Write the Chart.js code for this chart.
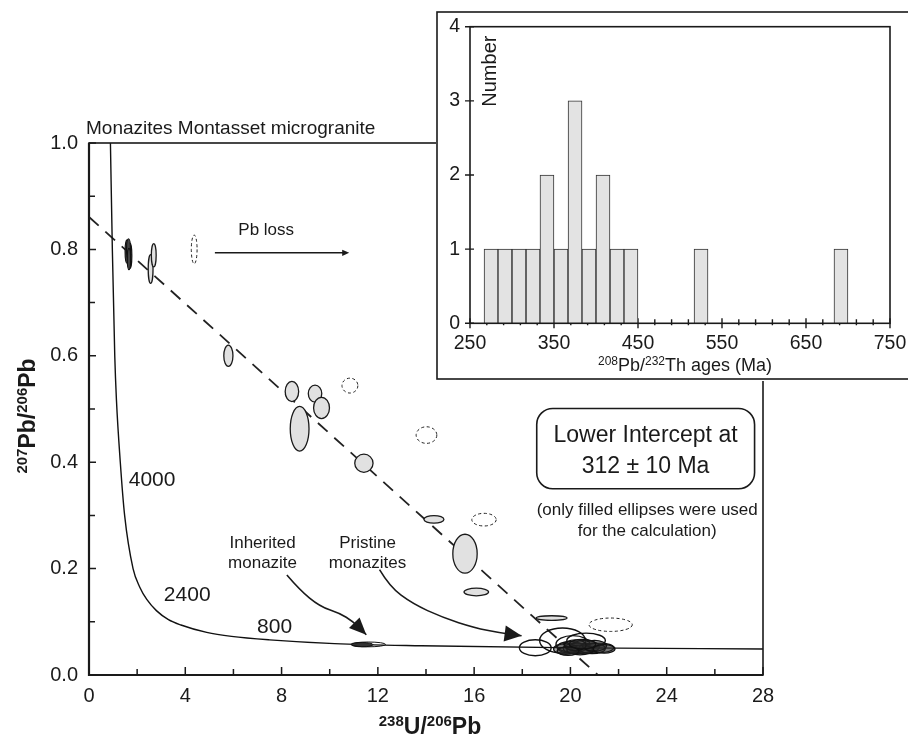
<!DOCTYPE html>
<html>
<head>
<meta charset="utf-8">
<script src="https://cdn.jsdelivr.net/npm/chart.js@4.4.1/dist/chart.umd.min.js"></script>
<style>
  html, body { margin: 0; padding: 0; background: #fff; overflow: hidden; }
  #wrap { position: relative; width: 908px; height: 737px; overflow: hidden; }
  #mainChart { position: absolute; left: 0; top: 0; }
  #insetChart { position: absolute; left: 436px; top: 5px; }
</style>
</head>
<body>
<div id="wrap">
  <canvas id="mainChart" width="908" height="737"></canvas>
  <canvas id="insetChart" width="500" height="376"></canvas>
</div>
<script>
// ---- data ----
// concordia curve (238U/206Pb, 207Pb/206Pb)
const concordiaX = [0.89, 0.97, 1.07, 1.14, 1.30, 1.48, 1.83, 2.11, 2.40, 2.80, 3.30, 3.82, 4.89, 5.92, 7.50, 10.2, 13.8, 20.2, 28.0];
const concordiaY = [1.0, 0.80, 0.60, 0.517, 0.40, 0.30, 0.20, 0.165, 0.142, 0.121, 0.104, 0.094, 0.080, 0.0725, 0.066, 0.059, 0.055, 0.051, 0.049];

// discordia (dashed regression line)
const discordiaX = [0, 21.14];
const discordiaY = [0.861, 0];

// ellipses: [x, y, half-width in x, half-height in y]
const usedEllipses = [
  [2.56, 0.763, 0.10, 0.027], [2.69, 0.789, 0.10, 0.022],
  [5.79, 0.600, 0.19, 0.020],
  [8.43, 0.533, 0.28, 0.019], [8.75, 0.463, 0.39, 0.042],
  [9.39, 0.529, 0.28, 0.016], [9.66, 0.502, 0.33, 0.020],
  [11.42, 0.398, 0.38, 0.017],
  [14.33, 0.2925, 0.415, 0.0072],
  [15.62, 0.228, 0.506, 0.0366],
  [16.09, 0.156, 0.51, 0.0072],
  [19.22, 0.107, 0.636, 0.0044]
];
const usedCluster = [
  [1.58, 0.796, 0.08, 0.022], [1.70, 0.788, 0.08, 0.024],
  [1.64, 0.801, 0.08, 0.019], [1.66, 0.782, 0.07, 0.020]
];
const excludedEllipses = [
  [4.37, 0.800, 0.12, 0.027],
  [10.84, 0.544, 0.33, 0.014],
  [14.02, 0.451, 0.43, 0.0156],
  [16.41, 0.292, 0.506, 0.0119],
  [21.67, 0.0945, 0.9, 0.0126]
];
const pristineEllipses = [
  [18.54, 0.0513, 0.66, 0.015],
  [19.67, 0.0648, 0.95, 0.0235],
  [20.65, 0.0648, 0.80, 0.014],
  [20.10, 0.058, 0.70, 0.016]
];
const pristineCore = [
  [20.0, 0.052, 0.55, 0.011], [20.3, 0.050, 0.60, 0.010], [20.6, 0.053, 0.60, 0.012],
  [20.9, 0.050, 0.55, 0.010], [21.2, 0.051, 0.60, 0.009], [19.8, 0.049, 0.50, 0.010],
  [20.4, 0.047, 0.55, 0.009], [21.0, 0.055, 0.50, 0.010], [20.2, 0.056, 0.45, 0.010],
  [21.4, 0.049, 0.45, 0.008], [20.5, 0.058, 0.55, 0.009], [19.9, 0.045, 0.45, 0.008]
];
const inheritedEllipses = [
  [11.35, 0.057, 0.45, 0.004],
  [11.60, 0.0575, 0.72, 0.0045]
];

// histogram of 208Pb/232Th ages (occupied bins only)
const ageBinStart = [266.7, 283.3, 300, 316.7, 333.3, 350, 366.7, 383.3, 400, 416.7, 433.3, 516.7, 683.3];
const ageCounts   = [1, 1, 1, 1, 2, 1, 3, 1, 2, 1, 1, 1, 1];
const ageBinWidth = 16.67;

// tick labels
const xTickValues = [0, 4, 8, 12, 16, 20, 24, 28];
const yTickValues = [0, 0.2, 0.4, 0.6, 0.8, 1.0];
const ageTickValues = [250, 350, 450, 550, 650, 750];
const countTickValues = [0, 1, 2, 3, 4];

const FONT = "'Liberation Sans', Arial, Helvetica, sans-serif";
const INK = '#1a1a1a';
Chart.defaults.font.family = FONT;
Chart.defaults.color = INK;

function drawEllipses(chart, list, style) {
  const {ctx, scales: {x, y}} = chart;
  list.forEach(([ex, ey, sx, sy]) => {
    const cx = x.getPixelForValue(ex), cy = y.getPixelForValue(ey);
    const rx = x.getPixelForValue(ex + sx) - cx;
    const ry = cy - y.getPixelForValue(ey + sy);
    ctx.beginPath();
    ctx.ellipse(cx, cy, rx, ry, 0, 0, Math.PI * 2);
    if (style.fill) { ctx.fillStyle = style.fill; ctx.fill(); }
    ctx.setLineDash(style.dash || []);
    ctx.lineWidth = style.width;
    ctx.strokeStyle = style.stroke;
    ctx.stroke();
  });
  ctx.setLineDash([]);
}

function text(ctx, str, x, y, size, align) {
  ctx.font = size + 'px ' + FONT;
  ctx.textAlign = align || 'center';
  ctx.textBaseline = 'alphabetic';
  ctx.fillText(str, x, y);
}

// text with superscripts, centred on x
function supText(ctx, parts, x, y, size, supSize, bold) {
  const f = (s) => (bold ? 'bold ' : '') + s + 'px ' + FONT;
  let w = 0;
  parts.forEach(([t, sup]) => { ctx.font = f(sup ? supSize : size); w += ctx.measureText(t).width; });
  let cx = x - w / 2;
  ctx.textAlign = 'left';
  ctx.textBaseline = 'alphabetic';
  parts.forEach(([t, sup]) => {
    ctx.font = f(sup ? supSize : size);
    ctx.fillText(t, cx, sup ? y - size * 0.36 : y);
    cx += ctx.measureText(t).width;
  });
}

function smoothPath(ctx, pts) {
  ctx.beginPath();
  ctx.moveTo(pts[0][0], pts[0][1]);
  for (let i = 1; i < pts.length - 1; i++) {
    const mx = (pts[i][0] + pts[i + 1][0]) / 2, my = (pts[i][1] + pts[i + 1][1]) / 2;
    ctx.quadraticCurveTo(pts[i][0], pts[i][1], mx, my);
  }
  const n = pts.length;
  ctx.lineTo(pts[n - 1][0], pts[n - 1][1]);
  ctx.stroke();
}

function arrowHead(ctx, tip, from, len, half) {
  const a = Math.atan2(tip[1] - from[1], tip[0] - from[0]);
  const bx = tip[0] - len * Math.cos(a), by = tip[1] - len * Math.sin(a);
  ctx.beginPath();
  ctx.moveTo(tip[0], tip[1]);
  ctx.lineTo(bx + half * Math.sin(a), by - half * Math.cos(a));
  ctx.lineTo(bx - half * Math.sin(a), by + half * Math.cos(a));
  ctx.closePath();
  ctx.fill();
}

const mainDecor = {
  id: 'mainDecor',
  afterDatasetsDraw(chart) {
    const {ctx} = chart;
    ctx.save();
    drawEllipses(chart, excludedEllipses, {stroke: '#222', width: 1, dash: [3, 2.5]});
    drawEllipses(chart, pristineEllipses, {stroke: '#111', width: 1.4});
    drawEllipses(chart, pristineCore, {fill: 'rgba(40,40,40,0.4)', stroke: '#111', width: 1.3});
    drawEllipses(chart, inheritedEllipses.slice(0, 1), {fill: '#333', stroke: '#111', width: 1});
    drawEllipses(chart, inheritedEllipses.slice(1), {stroke: '#111', width: 1});
    drawEllipses(chart, usedCluster, {fill: '#444', stroke: '#111', width: 1.2});
    drawEllipses(chart, usedEllipses, {fill: '#e1e1e1', stroke: '#1a1a1a', width: 1.3});
    ctx.restore();
  },
  afterDraw(chart) {
    const {ctx, chartArea: {left, right, top, bottom}, scales: {x, y}} = chart;
    const P = (dx, dy) => [x.getPixelForValue(dx), y.getPixelForValue(dy)];
    ctx.save();
    ctx.strokeStyle = INK;
    ctx.fillStyle = INK;

    // frame
    ctx.lineWidth = 1.6;
    ctx.strokeRect(left, top, right - left, bottom - top);
    ctx.lineWidth = 2.2;
    ctx.beginPath();
    ctx.moveTo(left, top); ctx.lineTo(left, bottom); ctx.lineTo(right, bottom);
    ctx.stroke();

    // inward ticks
    ctx.lineWidth = 1.5;
    ctx.beginPath();
    xTickValues.forEach((v, i) => {
      const px = x.getPixelForValue(v);
      ctx.moveTo(px, bottom); ctx.lineTo(px, bottom - 8);
      if (i < xTickValues.length - 1) {
        const mx = x.getPixelForValue((v + xTickValues[i + 1]) / 2);
        ctx.moveTo(mx, bottom); ctx.lineTo(mx, bottom - 6);
      }
    });
    yTickValues.forEach((v, i) => {
      const py = y.getPixelForValue(v);
      ctx.moveTo(left, py); ctx.lineTo(left + 7, py);
      if (i < yTickValues.length - 1) {
        const my = y.getPixelForValue((v + yTickValues[i + 1]) / 2);
        ctx.moveTo(left, my); ctx.lineTo(left + 6, my);
      }
    });
    ctx.stroke();

    // title and axis titles
    text(ctx, 'Monazites Montasset microgranite', left - 3, top - 9, 19, 'left');
    supText(ctx, [['238', true], ['U/', false], ['206', true], ['Pb', false]], (left + right) / 2 + 4, 734, 23, 15, true);
    ctx.save();
    ctx.translate(35, (top + bottom) / 2 + 7);
    ctx.rotate(-Math.PI / 2);
    supText(ctx, [['207', true], ['Pb/', false], ['206', true], ['Pb', false]], 0, 0, 23, 15, true);
    ctx.restore();

    // concordia ages
    let p = P(2.62, 0.3554); text(ctx, '4000', p[0], p[1], 21);
    p = P(4.08, 0.1382); text(ctx, '2400', p[0], p[1], 21);
    p = P(7.71, 0.0789); text(ctx, '800', p[0], p[1], 21);

    // Pb loss arrow
    p = P(7.36, 0.8267); text(ctx, 'Pb loss', p[0], p[1], 17);
    const a0 = P(5.23, 0.7935), a1 = P(10.81, 0.7935);
    ctx.lineWidth = 1.5;
    ctx.beginPath(); ctx.moveTo(a0[0], a0[1]); ctx.lineTo(a1[0] - 3, a1[1]); ctx.stroke();
    arrowHead(ctx, a1, a0, 7, 3.2);

    // inherited / pristine labels and curved arrows
    p = P(7.21, 0.2396); text(ctx, 'Inherited', p[0], p[1], 17);
    p = P(7.21, 0.202); text(ctx, 'monazite', p[0], p[1], 17);
    p = P(11.57, 0.2396); text(ctx, 'Pristine', p[0], p[1], 17);
    p = P(11.57, 0.202); text(ctx, 'monazites', p[0], p[1], 17);

    const inh = [[8.22, 0.188], [8.75, 0.160], [9.58, 0.129], [10.41, 0.116], [10.96, 0.101], [11.52, 0.0757]].map(q => P(q[0], q[1]));
    ctx.lineWidth = 1.6;
    smoothPath(ctx, inh);
    arrowHead(ctx, inh[inh.length - 1], inh[inh.length - 2], 17, 7.5);
    const pri = [[12.07, 0.198], [12.49, 0.166], [13.44, 0.134], [14.69, 0.108], [16.02, 0.0888], [17.05, 0.0794], [17.97, 0.0738]].map(q => P(q[0], q[1]));
    smoothPath(ctx, pri);
    arrowHead(ctx, pri[pri.length - 1], pri[pri.length - 2], 17, 8);

    // lower intercept box
    const b0 = P(18.6, 0.501), b1 = P(27.65, 0.350);
    ctx.lineWidth = 1.6;
    ctx.beginPath();
    ctx.roundRect(b0[0], b0[1], b1[0] - b0[0], b1[1] - b0[1], 16);
    ctx.stroke();
    p = P(23.12, 0.4386); text(ctx, 'Lower Intercept at', p[0], p[1], 23);
    p = P(23.12, 0.3804); text(ctx, '312 \u00b1 10 Ma', p[0], p[1], 23);
    p = P(23.19, 0.301); text(ctx, '(only filled ellipses were used', p[0], p[1], 17);
    p = P(23.19, 0.262); text(ctx, 'for the calculation)', p[0], p[1], 17);

    ctx.restore();
  }
};

new Chart(document.getElementById('mainChart'), {
  type: 'scatter',
  data: {
    datasets: [
      {
        data: concordiaX.map((x, i) => ({x, y: concordiaY[i]})),
        showLine: true, borderColor: '#111', borderWidth: 1.4, pointRadius: 0,
        cubicInterpolationMode: 'monotone', fill: false
      },
      {
        data: discordiaX.map((x, i) => ({x, y: discordiaY[i]})),
        showLine: true, borderColor: '#222', borderWidth: 1.8, borderDash: [13, 9], pointRadius: 0
      }
    ]
  },
  options: {
    responsive: false, animation: false, devicePixelRatio: 1, events: [],
    layout: { padding: { left: 0, top: 143, right: 145, bottom: 0 } },
    plugins: { legend: { display: false }, tooltip: { enabled: false } },
    scales: {
      x: {
        type: 'linear', min: 0, max: 28,
        grid: { display: false, drawTicks: false }, border: { display: false },
        ticks: { padding: 9, font: { size: 20 }, color: INK, maxRotation: 0 },
        afterBuildTicks: (s) => { s.ticks = xTickValues.map(v => ({value: v})); },
        afterFit: (s) => { s.height = 62; }
      },
      y: {
        type: 'linear', min: 0, max: 1,
        grid: { display: false, drawTicks: false }, border: { display: false },
        ticks: { padding: 11, font: { size: 20 }, color: INK, callback: (v) => Number(v).toFixed(1) },
        afterBuildTicks: (s) => { s.ticks = yTickValues.map(v => ({value: v})); },
        afterFit: (s) => { s.width = 89; }
      }
    }
  },
  plugins: [mainDecor]
});

const insetDecor = {
  id: 'insetDecor',
  beforeDraw(chart) {
    const {ctx, width, height} = chart;
    ctx.save();
    ctx.fillStyle = '#fff';
    ctx.fillRect(0, 0, width, height);
    ctx.strokeStyle = INK;
    ctx.lineWidth = 1.6;
    ctx.strokeRect(1, 7, width + 20, 367);
    ctx.restore();
  },
  beforeDatasetsDraw(chart) {
    const {ctx, chartArea: {bottom, left}, scales: {x, y}} = chart;
    ctx.save();
    ctx.strokeStyle = INK;
    ctx.lineWidth = 1.4;
    ctx.beginPath();
    for (let v = 250; v <= 750; v += 20) {
      const px = x.getPixelForValue(v);
      ctx.moveTo(px, bottom + 2); ctx.lineTo(px, bottom - 4);
    }
    ageTickValues.forEach(v => {
      const px = x.getPixelForValue(v);
      ctx.moveTo(px, bottom + 5); ctx.lineTo(px, bottom - 5);
    });
    countTickValues.forEach(v => {
      const py = y.getPixelForValue(v);
      ctx.moveTo(left - 5, py); ctx.lineTo(left + 4, py);
    });
    ctx.stroke();
    ctx.restore();
  },
  afterDraw(chart) {
    const {ctx, chartArea: {left, right, top, bottom}} = chart;
    ctx.save();
    ctx.strokeStyle = INK;
    ctx.fillStyle = INK;
    ctx.lineWidth = 1.6;
    ctx.strokeRect(left, top, right - left, bottom - top);
    ctx.save();
    ctx.translate(left + 26, top + 80);
    ctx.rotate(-Math.PI / 2);
    text(ctx, 'Number', 0, 0, 20, 'left');
    ctx.restore();
    ctx.fillStyle = INK;
    supText(ctx, [['208', true], ['Pb/', false], ['232', true], ['Th ages (Ma)', false]], (left + right) / 2 + 5, bottom + 48, 18, 12, false);
    ctx.restore();
  }
};

new Chart(document.getElementById('insetChart'), {
  type: 'bar',
  data: {
    datasets: [{
      data: ageBinStart.map((s, i) => ({x: s + ageBinWidth / 2, y: ageCounts[i]})),
      backgroundColor: '#e3e3e3', borderColor: '#333', borderWidth: 1,
      barPercentage: 1, categoryPercentage: 1
    }]
  },
  options: {
    responsive: false, animation: false, devicePixelRatio: 1, events: [],
    layout: { padding: { left: 0, top: 21.7, right: 46, bottom: 0 } },
    plugins: { legend: { display: false }, tooltip: { enabled: false } },
    scales: {
      x: {
        type: 'linear', min: 250, max: 750, offset: false,
        grid: { display: false, drawTicks: false }, border: { display: false },
        ticks: { padding: 9, font: { size: 19.5 }, color: INK, maxRotation: 0 },
        afterBuildTicks: (s) => { s.ticks = ageTickValues.map(v => ({value: v})); },
        afterFit: (s) => { s.height = 57.7; }
      },
      y: {
        type: 'linear', min: 0, max: 4,
        grid: { display: false, drawTicks: false }, border: { display: false },
        ticks: { padding: 10, font: { size: 19.5 }, color: INK },
        afterBuildTicks: (s) => { s.ticks = countTickValues.map(v => ({value: v})); },
        afterFit: (s) => { s.width = 34; }
      }
    }
  },
  plugins: [insetDecor]
});
</script>
</body>
</html>
